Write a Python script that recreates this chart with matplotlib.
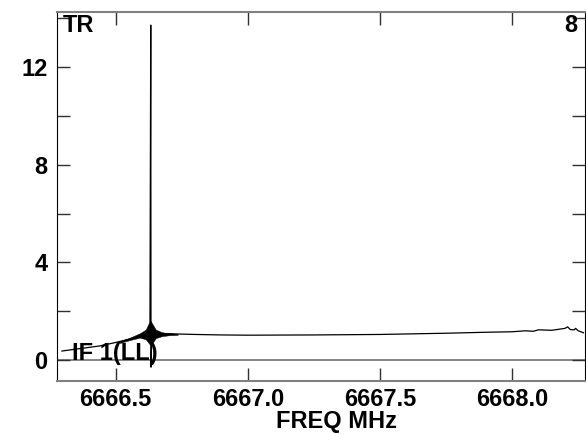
import numpy as np
import matplotlib.pyplot as plt

plt.rcParams['font.family'] = ['Liberation Sans', 'DejaVu Sans']
plt.rcParams['font.weight'] = 'bold'
plt.rcParams['font.size'] = 17

# spectrum trace (MHz, amplitude)
freq = [6666.297, 6666.35, 6666.40, 6666.44, 6666.50, 6666.55, 6666.59, 6666.625,
        6666.630, 6666.633, 6666.634, 6666.637, 6666.645, 6666.70, 6666.80, 6666.90,
        6667.00, 6667.25, 6667.50, 6667.75, 6667.90, 6668.00, 6668.05, 6668.08,
        6668.10, 6668.15, 6668.20, 6668.21, 6668.22, 6668.235, 6668.24, 6668.25, 6668.27]
amp = [0.37, 0.45, 0.52, 0.58, 0.72, 0.85, 0.97, 1.05,
       1.2, 13.73, -0.29, 1.3, 1.1, 1.08, 1.05, 1.03,
       1.02, 1.03, 1.05, 1.1, 1.14, 1.16, 1.2, 1.18,
       1.24, 1.22, 1.3, 1.36, 1.25, 1.24, 1.3, 1.2, 1.12]

# ringing envelope around the line
ring_freq = [6666.516, 6666.554, 6666.592, 6666.614, 6666.625, 6666.633,
             6666.641, 6666.652, 6666.675, 6666.705, 6666.735]
ring_hi = [0.78, 0.92, 1.1, 1.25, 1.5, 1.6, 1.45, 1.25, 1.14, 1.1, 1.07]
ring_lo = [0.7, 0.82, 0.92, 0.85, 0.7, 0.6, 0.72, 0.9, 0.98, 1.02, 1.03]

fig = plt.figure(figsize=(5.86, 4.34), dpi=100)
ax = fig.add_axes([0.098, 0.122, 0.9, 0.85])

ax.axhline(0, color='#707070', lw=1.2, zorder=1)
ax.fill_between(ring_freq, ring_lo, ring_hi, color='black', lw=0.3, zorder=2)
ax.plot(freq, amp, color='black', lw=0.9, zorder=3)

ax.set_xlim(6666.28, 6668.275)
ax.set_ylim(-0.86, 14.26)
ax.set_xticks([6666.5, 6667.0, 6667.5, 6668.0])
ax.set_xticklabels(['6666.5', '6667.0', '6667.5', '6668.0'])
ax.set_yticks([0, 2, 4, 6, 8, 10, 12, 14])
ax.set_yticklabels(['0', '', '4', '', '8', '', '12', ''])
ax.tick_params(direction='in', length=9.5, width=1, top=True, right=True,
               color='#303030')
ax.tick_params(axis='y', pad=7)
ax.tick_params(axis='x', pad=5)

for s in ['top', 'bottom']:
    ax.spines[s].set_color('#808080')
    ax.spines[s].set_linewidth(1.5)
ax.spines['left'].set_color('black')
ax.spines['right'].set_color('black')

ax.set_xlabel('FREQ MHz', fontweight='bold', labelpad=0)
ax.xaxis.set_label_coords(0.53, -0.079)

ax.text(6666.30, 13.7, 'TR', ha='left', va='center', fontweight='bold')
ax.text(6668.245, 13.7, '8', ha='right', va='center', fontweight='bold')
ax.text(6666.335, 0.0, 'IF 1(LL)', ha='left', va='baseline', fontweight='bold', zorder=4)

fig.savefig('out.png', dpi=100)
